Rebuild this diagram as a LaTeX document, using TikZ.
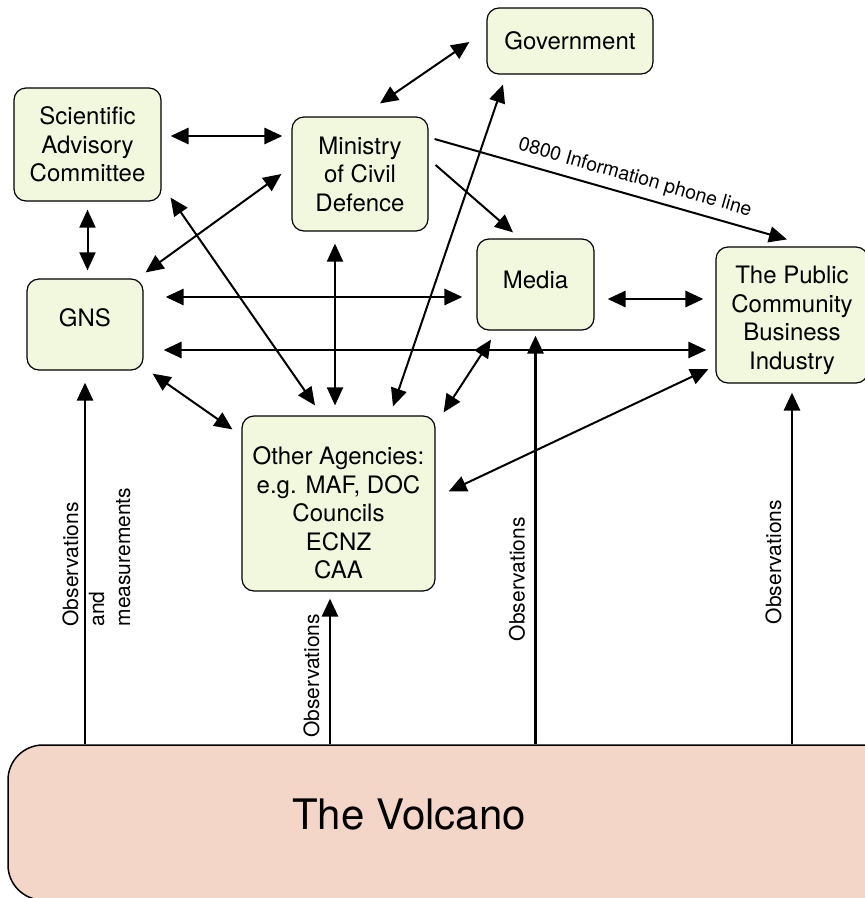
\documentclass[tikz,border=0pt]{standalone}
\usepackage{fontspec}
\setmainfont{TeX Gyre Heros}
\usetikzlibrary{positioning}
\usetikzlibrary{calc}
\usetikzlibrary{arrows.meta}
\definecolor{boxgreen}{RGB}{241,248,222}
\definecolor{volcanopink}{RGB}{244,214,201}

\tikzset{
  agency/.style={draw, line width= 1.2, rounded corners=12pt, fill=boxgreen, align=center,
    inner sep=4pt, font=\fontsize{24}{28.5}\selectfont},
  volcano/.style={draw, line width= 1.5, rounded corners=35pt, fill=volcanopink},
  volcanotext/.style={font=\fontsize{42}{50}\selectfont},
  lnk/.style={line width= 2},
  blnk/.style={line width= 2.8},
  obslabel/.style={rotate=90, anchor=south, inner sep=0pt, inner ysep=9pt, font=\fontsize{21}{26}\selectfont},
  phone/.style={sloped, above, pos=0.555, inner sep=7pt, font=\fontsize{19.5}{22}\selectfont}
}

\begin{document}
\begin{tikzpicture}[x=1pt, y=-1pt, >={Triangle[length=18pt,width=16pt]}]
        \useasboundingbox (0,0) rectangle (865,898);
        \clip (0,0) rectangle (865,898);
        % nodes %
        \node[agency, minimum width=147pt, minimum height=113pt] (sac) at (87.5,144.5) {Scientific\\Advisory\\Committee};
        \node[agency, minimum width=136pt, minimum height=114pt] (mcd) at (360,174) {Ministry\\of Civil\\Defence};
        \node[agency, minimum width=116pt, minimum height=91pt] (gns) at (85,324.5) {\rule[-13pt]{0pt}{0pt}GNS};
        \node[agency, minimum width=166pt, minimum height=66pt] (gov) at (570,41) {Government};
        \node[agency, minimum width=117pt, minimum height=91pt] (media) at (535.5,284.5) {\rule[-9pt]{0pt}{0pt}Media};
        \node[agency, minimum width=152pt, minimum height=136pt] (pub) at (792,315) {\rule{0pt}{28pt}The Public\\Community\\Business\\Industry};
        \node[agency, minimum width=193pt, minimum height=175pt] (oth) at (338.5,503.5) {\rule{0pt}{37pt}Other Agencies:\\e.g. MAF, DOC\\Councils\\ECNZ\\CAA};
        \node[volcano, minimum width=900pt, minimum height=155pt,
              label={[volcanotext, xshift=-49pt, yshift=8pt]center:The Volcano}] (volc) at (458,822.5) {};
        \coordinate (othobs) at ($(oth.south)+(-8.5,7)$);
        % edges %
        \draw[<->, blnk] ($(sac.east)+(9,-8.5)$) -- ($(mcd.west)+(-9,-38)$);
        \draw[<->, lnk] ($(sac.south)+(0,8)$) -- ($(gns.north)+(2.5,-8)$);
        \draw[<->, lnk] ($(gns.north east)+(2,-6)$) -- ($(mcd.west)+(-10,0)$);
        \draw[<->, lnk] ($(sac.south east)+(9,-4)$) -- ($(oth.north)+(-23.5,-10)$);
        \draw[<->, lnk] ($(mcd.south)+(-25,12)$) -- ($(oth.north)+(-3.5,-10)$);
        \draw[<->, lnk] ($(oth.north)+(54.5,-9)$) -- ($(gov.south)+(-67,10)$);
        \draw[<->, lnk] ($(mcd.north)+(20,-13)$) -- ($(gov.west)+(-17,1)$);
        \draw[->, lnk] ($(mcd.east)+(7,-9)$) -- ($(media.north)+(-22.5,-6)$);
        \draw[->, lnk] ($(mcd.east)+(6,-35)$) -- node[phone] {0800 Information phone line} ($(pub.north)+(-5,-7)$);
        \draw[<->, blnk] ($(gns.east)+(22,-27.5)$) -- ($(media.west)+(-14,12.5)$);
        \draw[<->, blnk] ($(gns.east)+(20,25.5)$) -- ($(pub.west)+(-9,35)$);
        \draw[<->, blnk] ($(media.east)+(13,14.5)$) -- ($(pub.west)+(-12,-16)$);
        \draw[<->, lnk] ($(gns.south east)+(9,3)$) -- ($(oth.north west)+(-9,14)$);
        \draw[<->, lnk] ($(media.south)+(-44.5,9)$) -- ($(oth.north east)+(8,-3)$);
        \draw[<->, lnk] ($(pub.west)+(-7,54)$) -- ($(oth.east)+(13,-12)$);
        % observations %
        \draw[->, blnk] (gns.south |- volc.north) -- node[pos=0.322, xshift=-24pt, rotate=90, anchor=north west, align=left,
              inner sep=0pt, font=\fontsize{21}{26}\selectfont] {Observations\\and\\measurements} ($(gns.south)+(0,12)$);
        \draw[->, blnk] (othobs |- volc.north) -- node[obslabel, pos=0.47] {Observations} (othobs);
        \draw[->, blnk] (media.south |- volc.north) -- node[obslabel, pos=0.404] {Observations} ($(media.south)+(0,5)$);
        \draw[->, blnk] (pub.south |- volc.north) -- node[obslabel, pos=0.518] {Observations} ($(pub.south)+(0,9)$);
\end{tikzpicture}
\end{document}
